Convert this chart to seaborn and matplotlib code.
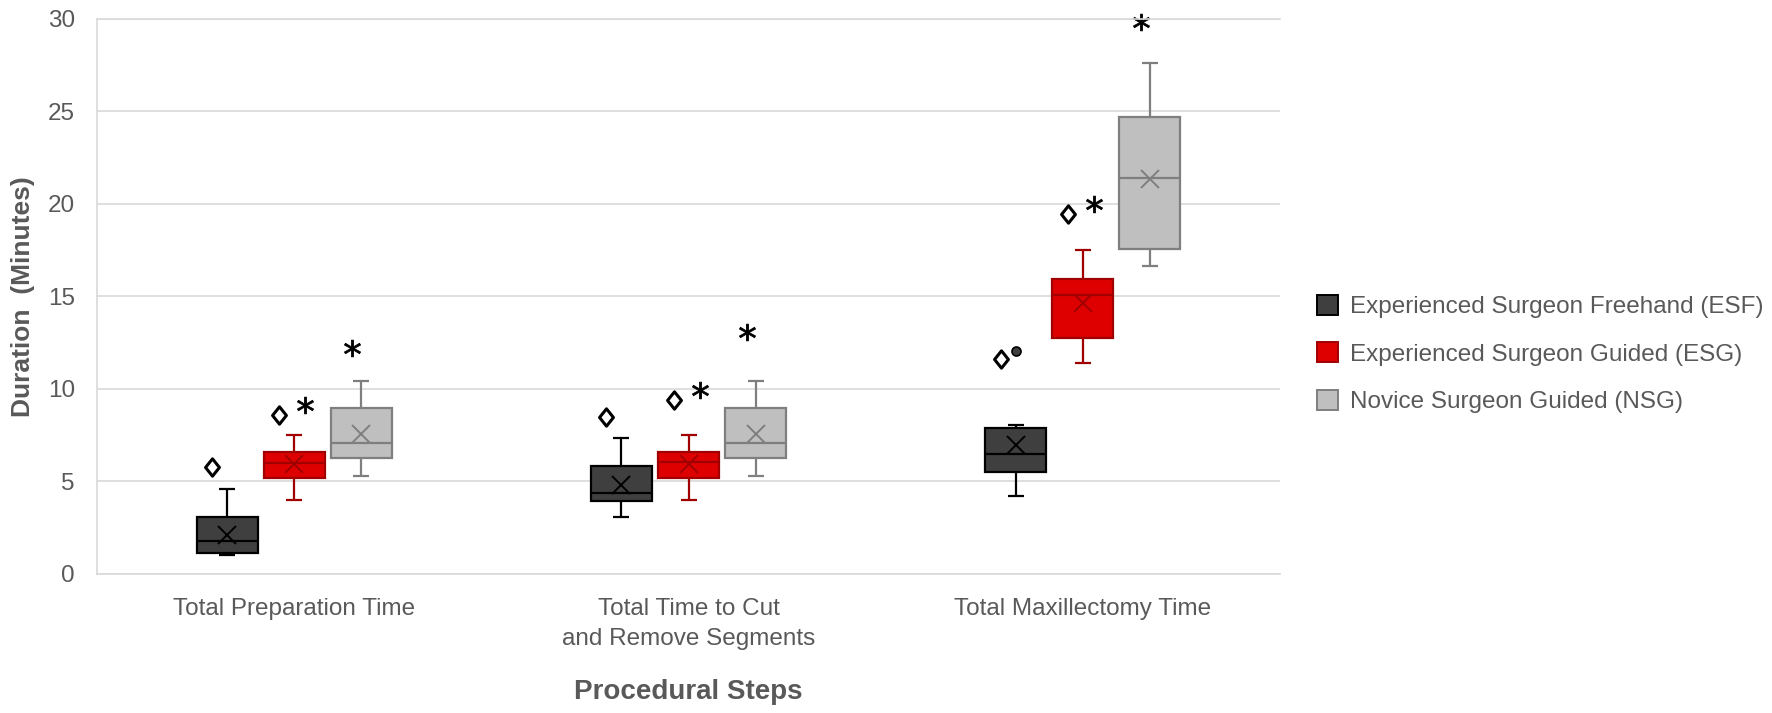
import numpy as np
import pandas as pd
import matplotlib
matplotlib.use("Agg")
import matplotlib.pyplot as plt
import matplotlib.transforms as mtransforms
from matplotlib.path import Path
from matplotlib.patches import Patch
import seaborn as sns

# Categories and groups
categories = ["Total Preparation Time",
              "Total Time to Cut\nand Remove Segments",
              "Total Maxillectomy Time"]
groups = ["Experienced Surgeon Freehand (ESF)",
          "Experienced Surgeon Guided (ESG)",
          "Novice Surgeon Guided (NSG)"]

# Box summaries (minutes), one value per procedural step
esf_low = [1.0, 3.1, 4.2]
esf_q1 = [1.15, 3.93, 5.53]
esf_median = [1.8, 4.36, 6.5]
esf_q3 = [3.08, 5.84, 7.88]
esf_high = [4.6, 7.37, 8.02]
esf_mean = [2.1, 4.81, 6.94]

esg_low = [4.0, 4.0, 11.4]
esg_q1 = [5.2, 5.2, 12.74]
esg_median = [6.0, 6.04, 15.05]
esg_q3 = [6.6, 6.6, 15.93]
esg_high = [7.5, 7.5, 17.5]
esg_mean = [5.92, 5.95, 14.63]

nsg_low = [5.28, 5.3, 16.65]
nsg_q1 = [6.28, 6.27, 17.55]
nsg_median = [7.07, 7.08, 21.4]
nsg_q3 = [8.97, 8.97, 24.68]
nsg_high = [10.4, 10.42, 27.6]
nsg_mean = [7.55, 7.57, 21.33]

# Significance marks
esf_diamond = [5.77, 8.47, 11.6]
esg_diamond = [8.6, 9.4, 19.45]
esg_star = [9.14, 9.95, 20.0]
nsg_star = [12.2, 13.07, 29.8]

# Outlier point of the ESF box in the last step
outlier_step = [categories[2]]
outlier_value = [12.02]

face_colors = dict(zip(groups, ["#3f3f3f", "#de0000", "#bfbfbf"]))
edge_colors = dict(zip(groups, ["#000000", "#a00000", "#7f7f7f"]))
TEXT = "#595959"
GRID = "#d9d9d9"

BOX_W = 0.51
GAP = 0.09
DODGE = BOX_W * 2 / 3

DIAMOND = Path([(0, 1), (0.8, 0), (0, -1), (-0.8, 0), (0, 1)], closed=True)


def long_frame(series_by_group):
    rows = []
    for g, series_list in series_by_group.items():
        for series in series_list:
            for cat, v in zip(categories, series):
                rows.append({"step": cat, "group": g, "minutes": v})
    return pd.DataFrame(rows)


box_df = long_frame({
    groups[0]: [esf_low, esf_q1, esf_median, esf_q3, esf_high],
    groups[1]: [esg_low, esg_q1, esg_median, esg_q3, esg_high],
    groups[2]: [nsg_low, nsg_q1, nsg_median, nsg_q3, nsg_high],
})
low_df = long_frame({groups[0]: [esf_low], groups[1]: [esg_low], groups[2]: [nsg_low]})
high_df = long_frame({groups[0]: [esf_high], groups[1]: [esg_high], groups[2]: [nsg_high]})
mean_df = long_frame({groups[0]: [esf_mean], groups[1]: [esg_mean], groups[2]: [nsg_mean]})
diamond_df = long_frame({groups[0]: [esf_diamond], groups[1]: [esg_diamond]})
outlier_df = pd.DataFrame({"step": outlier_step, "group": groups[0], "minutes": outlier_value})

sns.set_theme(style="white")
plt.rcParams["font.family"] = ["Liberation Sans", "DejaVu Sans"]

fig = plt.figure(figsize=(17.72, 7.13), dpi=100)
ax = fig.add_axes([97 / 1772, 1 - 574 / 713, (1280 - 97) / 1772, (574 - 18.5) / 713])


def shift(lines, dx_px):
    off = mtransforms.ScaledTranslation(dx_px / fig.dpi, 0, fig.dpi_scale_trans)
    for ln in lines:
        ln.set_transform(ax.transData + off)
        ln.set_clip_on(False)


common = dict(x="step", y="minutes", hue="group", order=categories,
              hue_order=groups, legend=False, ax=ax)
points = dict(linestyle="none", dodge=DODGE, errorbar=None)

# boxes, one call per group so each gets its own line colour
for g in groups:
    sns.boxplot(data=box_df[box_df["group"] == g], palette=face_colors,
                linecolor=edge_colors[g], linewidth=1.6, width=BOX_W, gap=GAP,
                whis=(0, 100), saturation=1, dodge=True, showcaps=False, **common)

# whisker caps, narrower than seaborn's default
for cap_df in (low_df, high_df):
    sns.pointplot(data=cap_df, palette=edge_colors, markers="_", markersize=12,
                  markeredgewidth=1.6, **points, **common)

# means
sns.pointplot(data=mean_df, palette=edge_colors, markers="x", markersize=12.5,
              markeredgewidth=1.4, **points, **common)

# outlier dot
sns.pointplot(data=outlier_df, palette={g: "#3f3f3f" for g in groups},
              markers="o", markersize=6.5, markeredgewidth=1.2,
              markeredgecolor="black", **points, **common)

# diamonds, slightly left of their boxes
n0 = len(ax.lines)
sns.pointplot(data=diamond_df, palette={g: "white" for g in groups},
              markers=DIAMOND, markersize=12.5, markeredgewidth=2.2,
              markeredgecolor="black", **points, **common)
shift(ax.lines[n0:], -15)

# asterisks
for g, vals, dx in [(groups[1], esg_star, 11), (groups[2], nsg_star, -9)]:
    star_df = long_frame({g: [vals]})
    n0 = len(ax.lines)
    sns.pointplot(data=star_df, palette={k: "black" for k in groups},
                  markers="$*$", markersize=12, markeredgewidth=0.6,
                  **points, **common)
    shift(ax.lines[n0:], dx)

# axes styling
ax.set_xlim(-0.5, 2.5)
ax.set_ylim(0, 30)
ax.set_yticks(range(0, 31, 5))
ax.set_axisbelow(True)
ax.yaxis.grid(True, color=GRID, linewidth=1.2)
ax.xaxis.grid(False)
for side in ["top", "bottom", "left"]:
    ax.spines[side].set_color(GRID)
    ax.spines[side].set_linewidth(1.2)
ax.spines["right"].set_visible(False)
ax.tick_params(axis="both", length=0, labelsize=17.5, labelcolor=TEXT)
ax.tick_params(axis="y", pad=16)
ax.tick_params(axis="x", pad=17.5)
plt.setp(ax.get_xticklabels(), linespacing=1.45)

ax.set_xlabel("Procedural Steps", fontsize=20, fontweight="bold", color=TEXT, labelpad=21)
ax.set_ylabel("Duration  (Minutes)", fontsize=19, fontweight="bold", color=TEXT, labelpad=9)

handles = [Patch(facecolor=face_colors[g], edgecolor=edge_colors[g], linewidth=1.4, label=g)
           for g in groups]
fig.legend(handles=handles, loc="center left", bbox_to_anchor=(1317 / 1772, 1 - 354 / 713),
           frameon=False, fontsize=17.5, labelcolor=TEXT, handlelength=0.87,
           handleheight=0.87, handletextpad=0.5, labelspacing=1.0,
           borderpad=0, borderaxespad=0)

fig.savefig("out.png", dpi=100)
plt.close(fig)
